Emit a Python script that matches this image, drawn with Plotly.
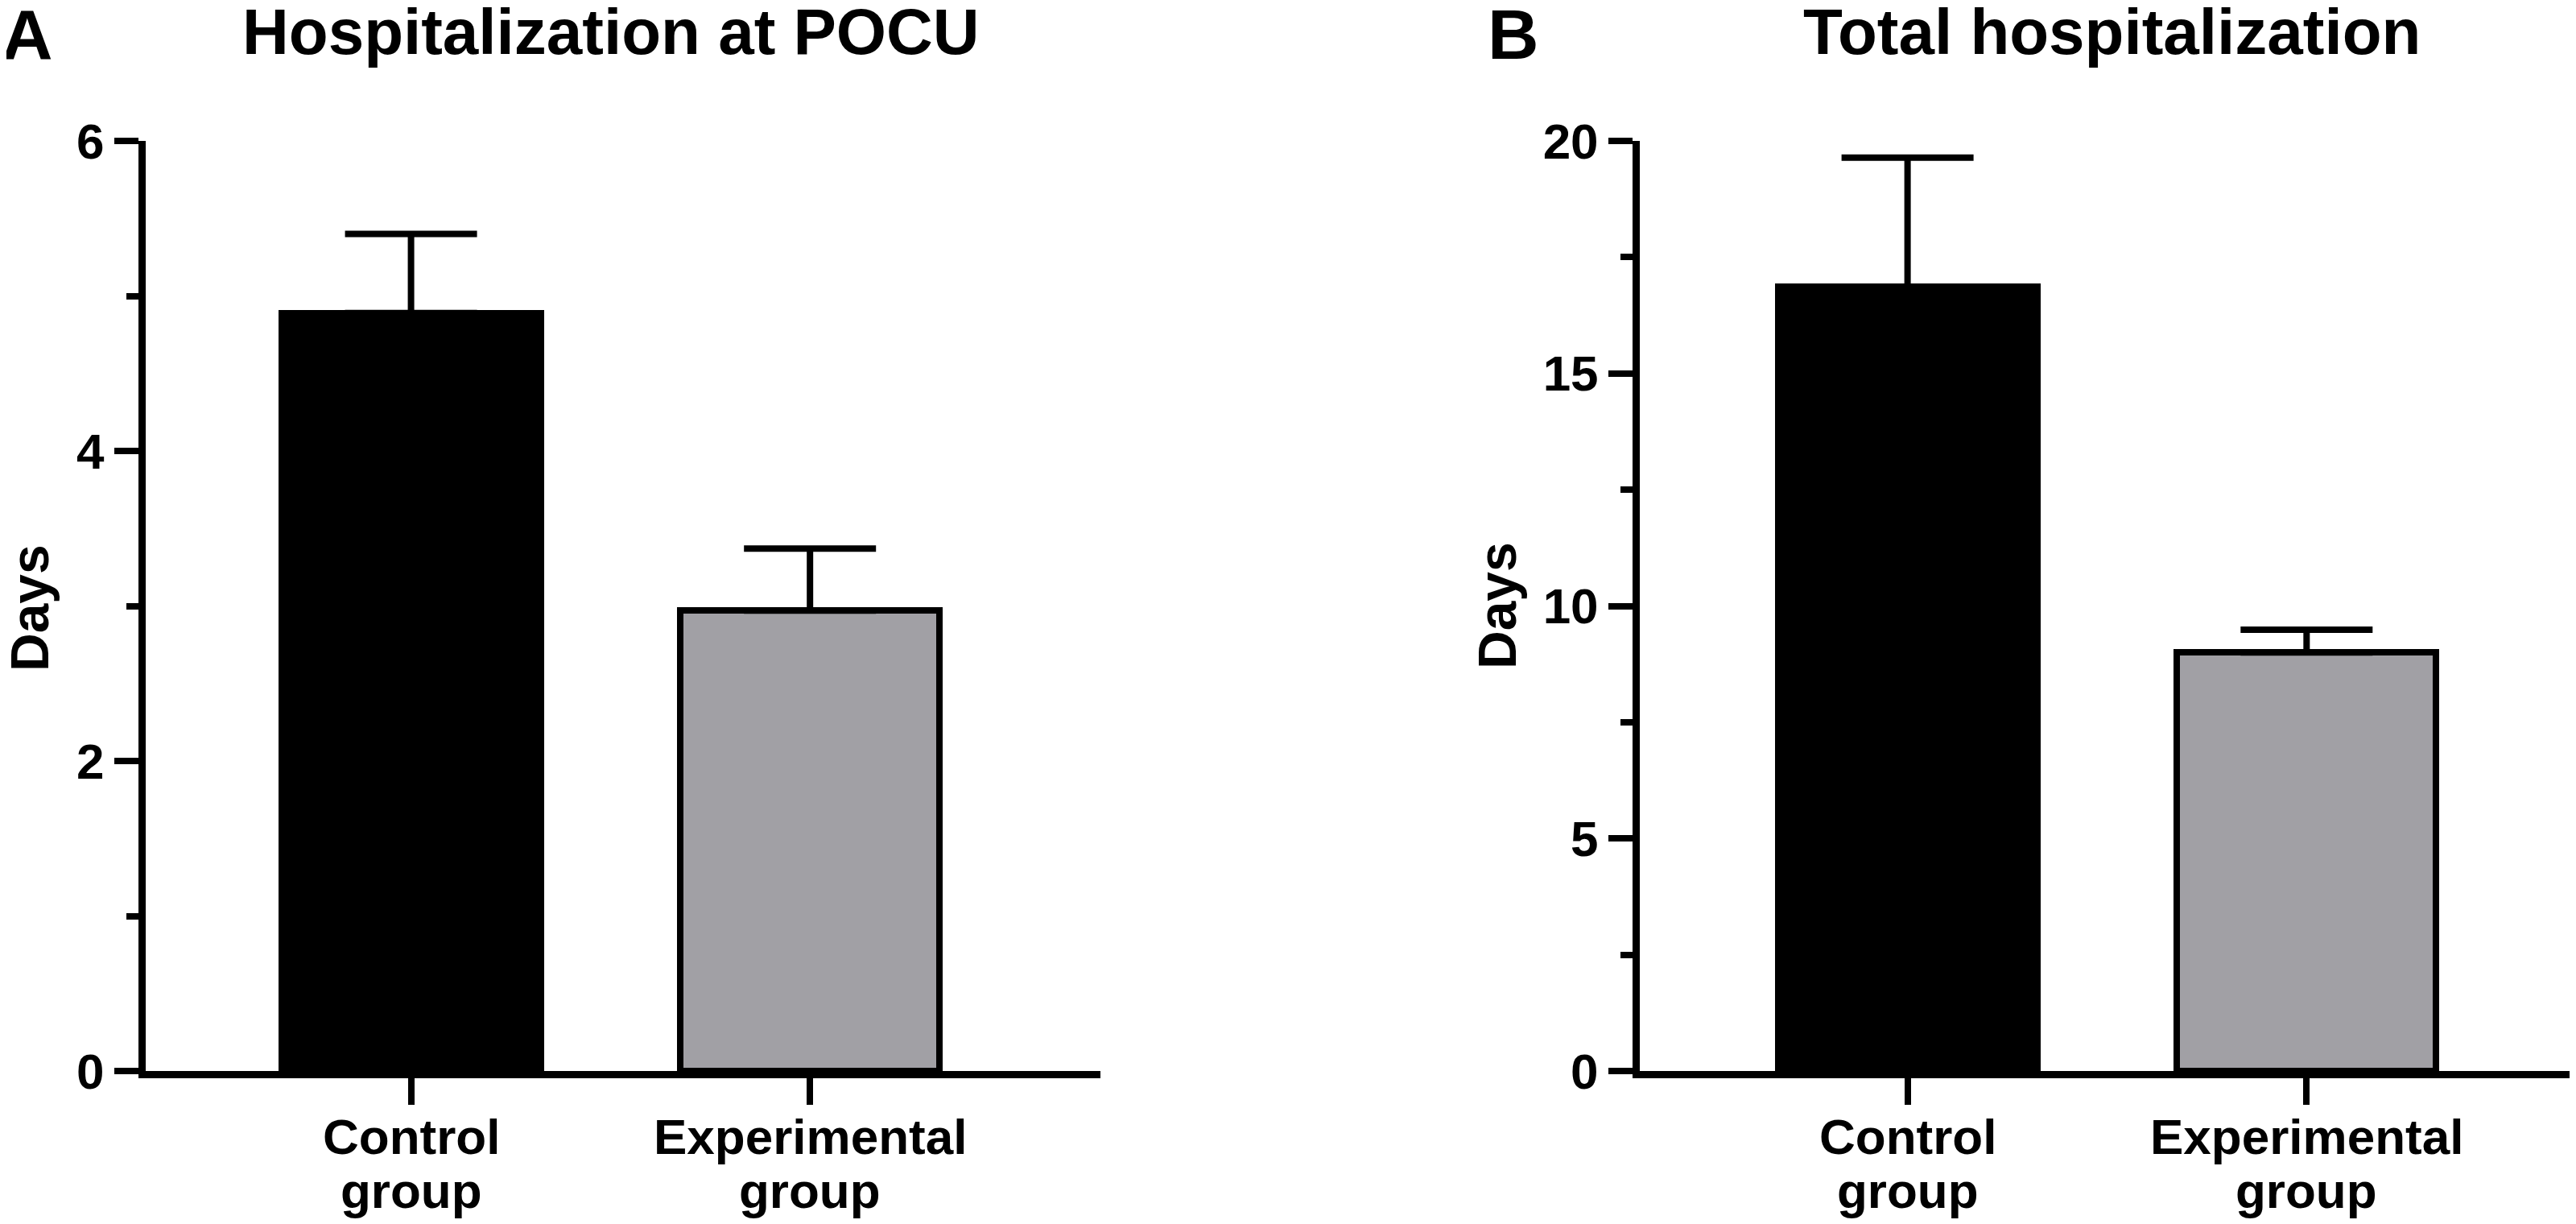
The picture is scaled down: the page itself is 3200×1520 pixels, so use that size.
import plotly.graph_objects as go

categories = ["Control group", "Experimental group"]
bar_colors = ["#000000", "#a1a0a5"]

# panel A - hospitalization at POCU (days)
pocu_mean = [4.89, 2.97]
pocu_err = [0.51, 0.40]

# panel B - total hospitalization (days)
total_mean = [16.86, 9.0]
total_err = [2.78, 0.49]

W, H = 3200, 1520
OFF = 8  # default body margin of the page
FONT = "Liberation Sans, Arial, sans-serif"


def px_x(p):
    return (p - OFF) / W


def px_y(p):
    return 1 - (p - OFF) / H


fig = go.Figure()

for mean, err, xa, ya in [(pocu_mean, pocu_err, "x", "y"), (total_mean, total_err, "x2", "y2")]:
    fig.add_trace(go.Bar(
        x=categories, y=mean, width=0.65,
        marker=dict(color=bar_colors, line=dict(color="black", width=8)),
        error_y=dict(type="data", symmetric=False, array=err, arrayminus=[0, 0],
                     color="black", thickness=8, width=82),
        xaxis=xa, yaxis=ya, showlegend=False,
    ))
    # two-line category labels under the ticks
    for cat in categories:
        first, second = cat.split(" ")
        for word, ypos in [(first, 1411), (second, 1478)]:
            fig.add_annotation(text=word, x=cat, xref=xa, y=px_y(ypos), yref="paper",
                               xanchor="center", yanchor="middle", showarrow=False,
                               font=dict(family=FONT, size=62, color="black", weight="bold"))

axis_common = dict(showline=True, linecolor="black", linewidth=9, showgrid=False, zeroline=False,
                   automargin=False,
                   ticks="outside", tickcolor="black", tickwidth=8,
                   tickfont=dict(family=FONT, size=62, color="black", weight="bold"))

fig.update_layout(
    width=W, height=H,
    margin=dict(l=0, r=0, t=0, b=0, autoexpand=False),
    paper_bgcolor="white", plot_bgcolor="white",
    bargap=0,
    xaxis=dict(domain=[px_x(181), px_x(1367)], range=[-0.665, 1.728], ticklen=33, anchor="y",
               showticklabels=False, **axis_common),
    yaxis=dict(domain=[px_y(1330), px_y(175)], range=[0, 6], dtick=2, tick0=0, ticklen=30, anchor="x",
               minor=dict(ticks="outside", dtick=1, tick0=0, ticklen=15, tickwidth=8, tickcolor="black"),
               **axis_common),
    xaxis2=dict(domain=[px_x(2037), px_x(3193)], range=[-0.671, 1.661], ticklen=33, anchor="y2",
                showticklabels=False, **axis_common),
    yaxis2=dict(domain=[px_y(1330), px_y(175)], range=[0, 20], dtick=5, tick0=0, ticklen=30, anchor="x2",
                minor=dict(ticks="outside", dtick=2.5, tick0=0, ticklen=15, tickwidth=8, tickcolor="black"),
                **axis_common),
)

annots = [
    ("A", 34, 42, 0, 88),
    ("B", 1880, 42, 0, 88),
    ("Hospitalization at POCU", 759, 40, 0, 80),
    ("Total hospitalization", 2623, 40, 0, 80),
    ("Days", 37, 755, -90, 66),
    ("Days", 1860, 752, -90, 66),
]
for text, x, y, ang, size in annots:
    fig.add_annotation(text=text, x=px_x(x), y=px_y(y), xref="paper", yref="paper",
                       xanchor="center", yanchor="middle", showarrow=False, textangle=ang,
                       font=dict(family=FONT, size=size, color="black", weight="bold"))

fig.write_html("out.html")
